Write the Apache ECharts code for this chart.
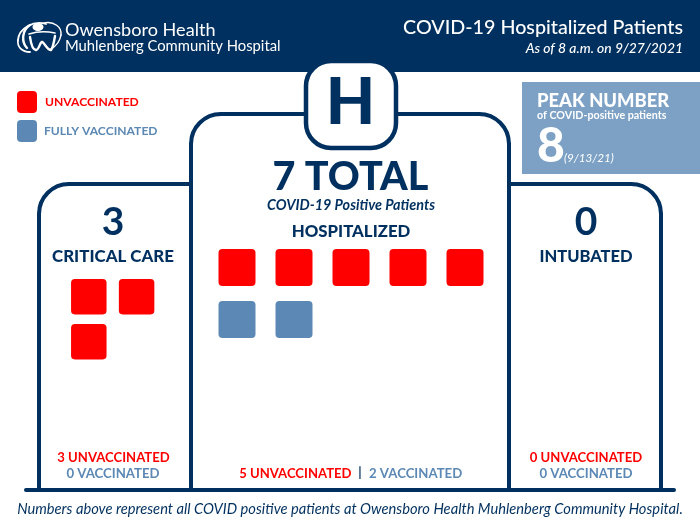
<!DOCTYPE html>
<html>
<head>
<meta charset="utf-8">
<style>
  html, body { margin: 0; padding: 0; background: #fff; }
  #chart { width: 700px; height: 525px; }
</style>
<script src="https://cdn.jsdelivr.net/npm/echarts@6/dist/echarts.min.js"></script>
</head>
<body>
<div id="chart"></div>
<script>
// values
const wards = ['CRITICAL CARE', 'HOSPITALIZED', 'INTUBATED'];
const unvaccinated = [3, 5, 0];
const vaccinated = [0, 2, 0];
const peakValue = 8;
const peakDate = '(9/13/21)';
const asOf = 'As of 8 a.m. on 9/27/2021';

const NAVY = '#00305f';
const RED = '#ff0000';
const BLUE = '#5b88b4';
const FONT = 'Lato';

// rounded square, corners tighter than the built in roundRect
const SQUARE = 'path://M4 0H33A4 4 0 0 1 37 4V33A4 4 0 0 1 33 37H4A4 4 0 0 1 0 33V4A4 4 0 0 1 4 0Z';
// legend keys are slightly taller than wide
const LEGEND_KEY = 'path://M4 0H16A4 4 0 0 1 20 4V18A4 4 0 0 1 16 22H4A4 4 0 0 1 0 18V4A4 4 0 0 1 4 0Z';

// one hidden grid per panel, squares fill it cell by cell
const panelGrids = [
  { left: 64.9, top: 274.2, width: 95.6, height: 90, cols: 2, rows: 2, size: 35.5 },
  { left: 208.5, top: 241.5, width: 285, height: 104, cols: 5, rows: 2, size: 37 },
  { left: 537, top: 274.2, width: 95.6, height: 90, cols: 2, rows: 2, size: 35.5 }
];

function cell(index, cols) {
  return [index % cols + 0.5, Math.floor(index / cols) + 0.5];
}

const grid = [];
const xAxis = [];
const yAxis = [];
const series = [];
panelGrids.forEach((p, i) => {
  grid.push({ left: p.left, top: p.top, width: p.width, height: p.height });
  xAxis.push({ type: 'value', gridIndex: i, min: 0, max: p.cols, show: false });
  yAxis.push({ type: 'value', gridIndex: i, min: 0, max: p.rows, inverse: true, show: false });
  const unvacData = [];
  const vacData = [];
  for (let n = 0; n < unvaccinated[i]; n++) unvacData.push(cell(n, p.cols));
  for (let n = 0; n < vaccinated[i]; n++) vacData.push(cell(unvaccinated[i] + n, p.cols));
  [['UNVACCINATED', unvacData, RED], ['FULLY VACCINATED', vacData, BLUE]].forEach(s => {
    series.push({
      name: s[0],
      type: 'scatter',
      xAxisIndex: i,
      yAxisIndex: i,
      symbol: SQUARE,
      symbolSize: p.size,
      itemStyle: { color: s[2], opacity: 1 },
      data: s[1]
    });
  });
});

function label(text, x, y, size, color, weight, extra) {
  return {
    type: 'text',
    x: x,
    y: y,
    z: 20,
    style: {
      text: text,
      fill: color,
      font: (extra && extra.italic ? 'italic ' : '') + weight + ' ' + size + 'px ' + FONT,
      textAlign: (extra && extra.align) || 'center',
      textVerticalAlign: 'middle'
    }
  };
}

const lineStyle = { stroke: NAVY, lineWidth: 4, lineCap: 'round', fill: 'none' };

function seg(x1, y1, x2, y2) {
  return { type: 'line', z: 5, shape: { x1: x1, y1: y1, x2: x2, y2: y2 }, style: lineStyle };
}

function corner(cx, cy, r, start) {
  return {
    type: 'arc',
    z: 5,
    shape: { cx: cx, cy: cy, r: r, startAngle: start, endAngle: start + Math.PI / 2, clockwise: true },
    style: lineStyle
  };
}

// logo strokes, width then bezier points
function swoosh(width, x1, y1, cx1, cy1, cx2, cy2, x2, y2) {
  return {
    type: 'bezierCurve',
    z: 6,
    shape: { x1: x1, y1: y1, cpx1: cx1, cpy1: cy1, cpx2: cx2, cpy2: cy2, x2: x2, y2: y2 },
    style: { stroke: '#fff', lineWidth: width, lineCap: 'round', fill: 'none' }
  };
}

const total = unvaccinated[1] + vaccinated[1];
const critical = unvaccinated[0] + vaccinated[0];
const intubated = unvaccinated[2] + vaccinated[2];

const graphics = [
  // header band and peak box
  { type: 'rect', z: 1, shape: { x: 0, y: 0, width: 700, height: 72 }, style: { fill: NAVY } },
  { type: 'rect', z: 1, shape: { x: 522, y: 82, width: 178, height: 92 }, style: { fill: '#7ca1c5' } },

  // panels
  seg(39, 490, 39, 214), corner(69, 214, 30, Math.PI), seg(69, 184, 191, 184),
  seg(191, 490, 191, 144), corner(221, 144, 30, Math.PI), seg(221, 114, 479, 114),
  corner(479, 144, 30, -Math.PI / 2), seg(509, 144, 509, 490),
  seg(509, 184, 631, 184), corner(631, 214, 30, -Math.PI / 2), seg(661, 214, 661, 490),
  seg(26, 490, 674, 490),
  {
    type: 'rect',
    z: 10,
    shape: { x: 306, y: 61, width: 90, height: 87, r: 25 },
    style: { fill: '#fff', stroke: NAVY, lineWidth: 4.5 }
  },

  // logo
  swoosh(1.8, 46, 24, 34, 20, 19, 28, 18, 40),
  swoosh(1.8, 18, 40, 17, 47, 22, 52, 30, 52),
  swoosh(2.4, 30, 25, 22, 30, 21, 42, 27, 48),
  swoosh(1.5, 44, 23, 54, 21, 62, 27, 61, 35),
  swoosh(1.5, 61, 35, 60, 41, 56, 46, 51, 49),
  swoosh(1.6, 29, 34, 38, 31, 46, 31, 55, 33),
  swoosh(2.4, 30, 37, 31, 44, 33, 50, 36, 50),
  swoosh(2.4, 36, 50, 39, 50, 40, 42, 42, 42),
  swoosh(2.4, 42, 42, 44, 42, 47, 50, 51, 50),
  swoosh(2.4, 51, 50, 53, 48, 54, 42, 55, 36),
  { type: 'ellipse', z: 6, shape: { cx: 38, cy: 27, rx: 5.5, ry: 4 }, style: { fill: '#fff' } },

  label('Owensboro Health', 65, 30, 18.1, '#fff', 400, { align: 'left' }),
  label('Muhlenberg Community Hospital', 65, 46, 14.8, '#fff', 400, { align: 'left' }),
  label('COVID-19 Hospitalized Patients', 683, 28, 19.7, '#fff', 500, { align: 'right' }),
  label(asOf, 683, 49, 13.9, '#fff', 500, { align: 'right', italic: true }),

  label('PEAK NUMBER', 537, 101, 18.4, '#fff', 900, { align: 'left' }),
  label('of COVID-positive patients', 537, 116, 10.7, '#fff', 700, { align: 'left' }),
  label(String(peakValue), 537, 147, 48, '#fff', 900, { align: 'left' }),
  label(peakDate, 564, 158, 11.7, '#fff', 400, { align: 'left', italic: true }),

  label('H', 350.5, 103, 64, NAVY, 900),
  label(total + ' TOTAL', 350.5, 177, 39.5, NAVY, 900),
  label('COVID-19 Positive Patients', 351, 205.5, 14.4, NAVY, 700, { italic: true }),
  label(wards[1], 351, 232, 16.8, NAVY, 900),

  label(String(critical), 113, 222.5, 39, NAVY, 700),
  label(wards[0], 113, 257, 16.9, NAVY, 900),
  label(String(intubated), 586, 222.5, 39, NAVY, 700),
  label(wards[2], 586, 257, 16.5, NAVY, 900),

  label(unvaccinated[0] + ' UNVACCINATED', 113.5, 457.5, 13.1, RED, 700),
  label(vaccinated[0] + ' VACCINATED', 113, 473.5, 13.2, BLUE, 700),
  label(unvaccinated[2] + ' UNVACCINATED', 586, 457.5, 13.1, RED, 700),
  label(vaccinated[2] + ' VACCINATED', 586, 473.5, 13.2, BLUE, 700),
  label(unvaccinated[1] + ' UNVACCINATED', 351.5, 473.5, 13.1, RED, 700, { align: 'right' }),
  label('|', 360, 472.5, 13, NAVY, 700),
  label(vaccinated[1] + ' VACCINATED', 369, 473.5, 13.2, BLUE, 700, { align: 'left' }),

  label('Numbers above represent all COVID positive patients at Owensboro Health Muhlenberg Community Hospital.', 350, 509, 14.7, NAVY, 400, { italic: true })
];

const chart = echarts.init(document.getElementById('chart'));
chart.setOption({
  animation: false,
  backgroundColor: '#fff',
  grid: grid,
  xAxis: xAxis,
  yAxis: yAxis,
  legend: {
    left: 17,
    top: 91,
    padding: 0,
    orient: 'vertical',
    itemWidth: 20,
    itemHeight: 22,
    itemGap: 7,
    selectedMode: false,
    data: [
      { name: 'UNVACCINATED', icon: LEGEND_KEY, textStyle: { color: RED, fontFamily: FONT, fontSize: 12.1, fontWeight: 700, padding: [0, 0, 0, 3] } },
      { name: 'FULLY VACCINATED', icon: LEGEND_KEY, textStyle: { color: BLUE, fontFamily: FONT, fontSize: 12.1, fontWeight: 700, padding: [0, 0, 0, 2] } }
    ]
  },
  graphic: graphics,
  series: series
});
</script>
</body>
</html>
